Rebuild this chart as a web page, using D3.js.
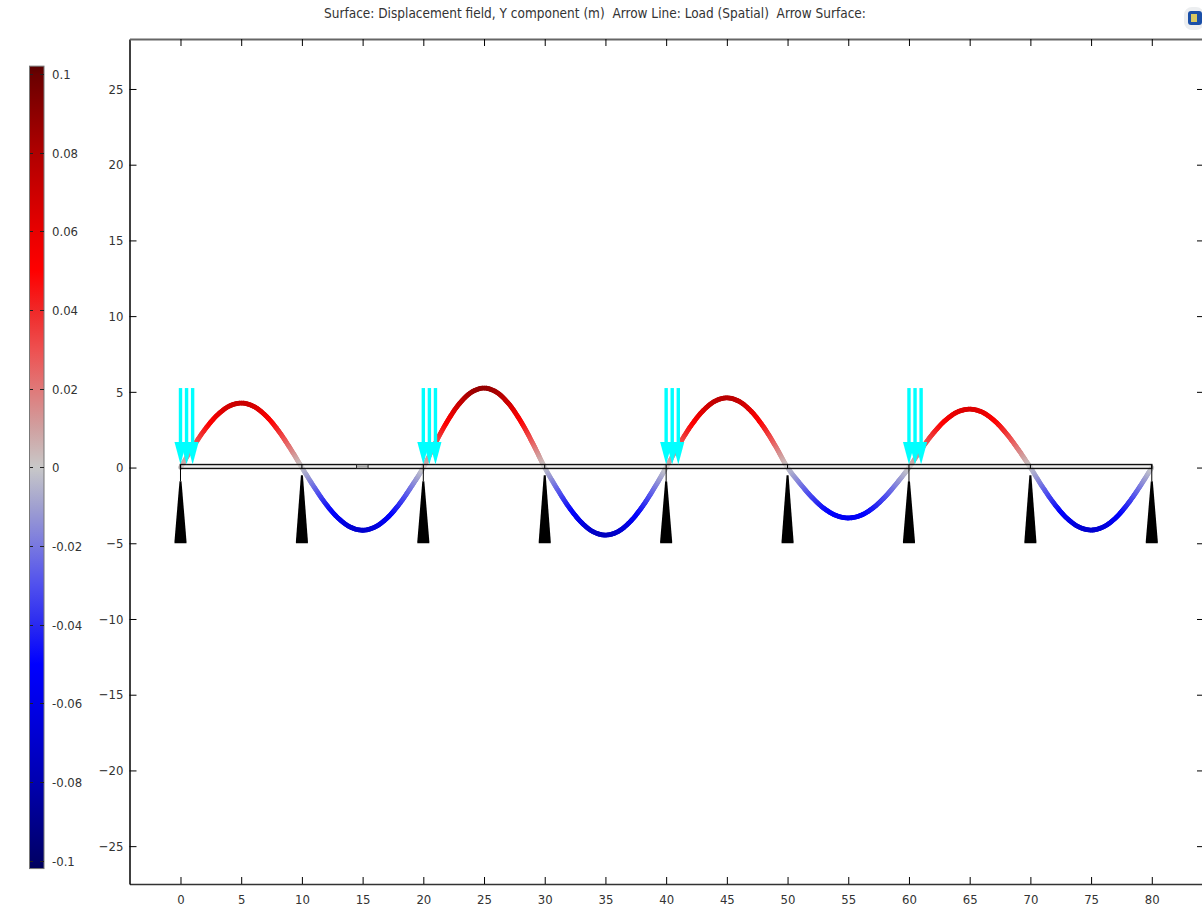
<!DOCTYPE html>
<html>
<head>
<meta charset="utf-8">
<script src="https://cdn.jsdelivr.net/npm/d3@7"></script>
<style>
    body { margin: 0; background: #fff; }
    svg { display: block; }
    text { font-family: "DejaVu Sans Condensed", "DejaVu Sans", sans-serif; font-stretch: condensed; font-size: 13px; fill: #333; }
    .title { font-size: 13.5px; }
</style>
</head>
<body>
<div id="chart"></div>
<script>
const titleText = "Surface: Displacement field, Y component (m)  Arrow Line: Load (Spatial)  Arrow Surface:";

const xTicks = d3.range(0, 81, 5);
const yTicks = [-25, -20, -15, -10, -5, 0, 5, 10, 15, 20, 25];
const colorTicks = [0.1, 0.08, 0.06, 0.04, 0.02, 0, -0.02, -0.04, -0.06, -0.08, -0.1];

// beam deflection in metres, read every 1 m along the beam
const deflection = [
    0, 0.0219, 0.0417, 0.0574, 0.0675, 0.071, 0.0675, 0.0574, 0.0417, 0.0219,
    0, -0.0213, -0.0406, -0.0558, -0.0656, -0.069, -0.0656, -0.0558, -0.0406, -0.0213,
    0, 0.027, 0.0514, 0.0708, 0.0832, 0.0875, 0.0832, 0.0708, 0.0514, 0.027,
    0, -0.023, -0.0437, -0.0601, -0.0707, -0.0743, -0.0707, -0.0601, -0.0437, -0.023,
    0, 0.0237, 0.0451, 0.062, 0.0729, 0.0767, 0.0729, 0.062, 0.0451, 0.0237,
    0, -0.0172, -0.0326, -0.0449, -0.0528, -0.0555, -0.0528, -0.0449, -0.0326, -0.0172,
    0, 0.0199, 0.0378, 0.052, 0.0612, 0.0643, 0.0612, 0.052, 0.0378, 0.0199,
    0, -0.0213, -0.0404, -0.0557, -0.0654, -0.0688, -0.0654, -0.0557, -0.0404, -0.0213,
    0
];
const deformationScale = 60;

const tallSupports = [0, 20, 40, 60, 80];
const shortSupports = [10, 30, 50, 70];
const loadStarts = [0, 20, 40, 60];
const loadOffsets = [0, 0.5, 1];

const colorStops = [-0.102, -0.1, -0.08, -0.06, -0.05, -0.04, -0.03, -0.02, -0.01, 0, 0.01, 0.02, 0.03, 0.04, 0.05, 0.06, 0.08, 0.1, 0.102];
const colorValues = ["#000058", "#000068", "#0000b0", "#0000e8", "#0000ff", "#2a2af0", "#5050ee", "#7878e0", "#a0a0d0", "#c8c8c8",
    "#d0a0a0", "#e07878", "#ee5050", "#f02828", "#ff0000", "#e80000", "#b00000", "#6a0000", "#580000"];

const width = 1202, height = 910;

const color = d3.scaleLinear().domain(colorStops).range(colorValues);
const x = d3.scaleLinear().domain([-4.2, 84.3]).range([129.5, 1204]);
const y = d3.scaleLinear().domain([-27.5, 28.3]).range([884, 39]);
const colorY = d3.scaleLinear().domain([-0.1, 0.1]).range([860.7, 74]);

const svg = d3.select("#chart").append("svg")
    .attr("width", width)
    .attr("height", height);

svg.append("text")
    .attr("class", "title")
    .attr("x", 595)
    .attr("y", 18)
    .attr("text-anchor", "middle")
    .style("white-space", "pre")
    .text(titleText);

// logo top right
const logo = svg.append("g");
logo.append("rect").attr("x", 1184).attr("y", 7).attr("width", 20).attr("height", 23).attr("rx", 8).attr("fill", "#eceef0");
logo.append("rect").attr("x", 1188).attr("y", 11).attr("width", 14).attr("height", 14).attr("rx", 3).attr("fill", "#1a4fa8");
logo.append("rect").attr("x", 1191).attr("y", 14).attr("width", 6).attr("height", 8).attr("fill", "#d8c860");

// axes: all ticks point inward
const axisOf = (axis, scale, ticks, labelled) => axis(scale)
    .tickValues(ticks)
    .tickSizeInner(-7)
    .tickSizeOuter(0)
    .tickFormat(labelled ? d3.format("d") : "");

const styleAxis = g => {
    g.attr("font-size", null).attr("font-family", null);
    g.selectAll(".tick line").attr("stroke", "#000");
};

const bottomAxis = svg.append("g")
    .attr("transform", `translate(0,${y(-27.5)})`)
    .call(axisOf(d3.axisBottom, x, xTicks, true))
    .call(styleAxis);
bottomAxis.selectAll("text").attr("y", 11);
bottomAxis.select(".domain").attr("stroke", "#333").attr("stroke-width", 1.5);

const leftAxis = svg.append("g")
    .attr("transform", `translate(${x(-4.2)},0)`)
    .call(axisOf(d3.axisLeft, y, yTicks, true))
    .call(styleAxis);
leftAxis.selectAll("text").attr("x", -6);
leftAxis.select(".domain").attr("stroke", "#000").attr("stroke-width", 1.5);

const topAxis = svg.append("g")
    .attr("transform", `translate(0,${y(28.3)})`)
    .call(axisOf(d3.axisTop, x, xTicks, false))
    .call(styleAxis);
topAxis.select(".domain").attr("stroke", "#666").attr("stroke-width", 2);

svg.append("g")
    .attr("transform", `translate(${x(84.3)},0)`)
    .call(axisOf(d3.axisRight, y, yTicks, false))
    .call(styleAxis);

// deformed beam, drawn in short pieces so the colour follows the value
const curve = d3.line()
    .x((d, i) => x(i))
    .y(d => y(d * deformationScale))
    .curve(d3.curveCatmullRom);

const guide = svg.append("path").attr("d", curve(deflection)).attr("fill", "none");
const guideNode = guide.node();
const total = guideNode.getTotalLength();
const pieces = d3.range(0, total, 2).map(l => {
    const a = guideNode.getPointAtLength(l);
    const b = guideNode.getPointAtLength(Math.min(l + 2, total));
    return { a, b, value: y.invert((a.y + b.y) / 2) / deformationScale };
});
guide.remove();

svg.append("g")
    .selectAll("line")
    .data(pieces)
    .join("line")
    .attr("x1", d => d.a.x)
    .attr("y1", d => d.a.y)
    .attr("x2", d => d.b.x)
    .attr("y2", d => d.b.y)
    .attr("stroke", d => color(d.value))
    .attr("stroke-width", 4.8)
    .attr("stroke-linecap", "round");

// beam outline
const beamTop = 0.2, beamBottom = -0.06;
svg.append("rect")
    .attr("x", x(0))
    .attr("y", y(beamTop))
    .attr("width", x(80) - x(0))
    .attr("height", y(beamBottom) - y(beamTop))
    .attr("fill", "#e4e4e4")
    .attr("fill-opacity", 0.55)
    .attr("stroke", "#111")
    .attr("stroke-width", 1.4);

svg.append("rect")
    .attr("x", x(14.5))
    .attr("y", y(beamTop))
    .attr("width", x(15.45) - x(14.5))
    .attr("height", y(beamBottom) - y(beamTop))
    .attr("fill", "#b0b0b0")
    .attr("stroke", "#222")
    .attr("stroke-width", 1);

// supports
const supportShape = (cx, tip) => {
    const px = x(cx), tipY = y(tip), baseY = y(-5);
    return `M${px - 1},${tipY}L${px + 1},${tipY}L${px + 6},${baseY - 2}L${px + 6},${baseY}L${px - 6},${baseY}L${px - 6},${baseY - 2}Z`;
};

svg.append("g")
    .selectAll("path")
    .data(tallSupports.map(d => [d, -0.9]).concat(shortSupports.map(d => [d, -0.5])))
    .join("path")
    .attr("d", d => supportShape(d[0], d[1]))
    .attr("fill", "#000");

svg.append("g")
    .selectAll("line")
    .data(tallSupports)
    .join("line")
    .attr("x1", d => x(d))
    .attr("x2", d => x(d))
    .attr("y1", y(beamTop))
    .attr("y2", y(-0.9))
    .attr("stroke", "#000");

svg.append("g")
    .selectAll("line")
    .data(shortSupports)
    .join("line")
    .attr("x1", d => x(d))
    .attr("x2", d => x(d))
    .attr("y1", y(beamTop))
    .attr("y2", y(beamBottom))
    .attr("stroke", "#000");

// load arrows
const loads = loadStarts.flatMap(s => loadOffsets.map(o => s + o));
const arrows = svg.append("g").attr("fill", "#00ffff");
arrows.selectAll("rect")
    .data(loads)
    .join("rect")
    .attr("x", d => x(d) - 1.7)
    .attr("y", y(5.25))
    .attr("width", 3.4)
    .attr("height", y(1.6) - y(5.25));
arrows.selectAll("path")
    .data(loads)
    .join("path")
    .attr("d", d => `M${x(d) - 6},${y(1.68)}L${x(d) + 6},${y(1.68)}L${x(d)},${y(0.2)}Z`);

// colour bar
const defs = svg.append("defs");
const gradient = defs.append("linearGradient")
    .attr("id", "colorbar")
    .attr("x1", 0).attr("x2", 0).attr("y1", 1).attr("y2", 0);
gradient.selectAll("stop")
    .data(colorStops)
    .join("stop")
    .attr("offset", d => (d + 0.102) / 0.204)
    .attr("stop-color", d => color(d));

svg.append("rect")
    .attr("x", 29.5)
    .attr("y", colorY(0.102))
    .attr("width", 14.5)
    .attr("height", colorY(-0.102) - colorY(0.102))
    .attr("fill", "url(#colorbar)")
    .attr("stroke", "#777")
    .attr("stroke-width", 1);

const colorAxis = svg.append("g")
    .selectAll("g")
    .data(colorTicks)
    .join("g")
    .attr("transform", d => `translate(0,${Math.round(colorY(d)) + 0.5})`);
colorAxis.append("line").attr("x1", 30).attr("x2", 33).attr("stroke", "#222");
colorAxis.append("line").attr("x1", 40).attr("x2", 44).attr("stroke", "#222");
colorAxis.append("text")
    .attr("x", 52)
    .attr("dy", "0.32em")
    .text(d => d === 0 ? "0" : String(d));
</script>
</body>
</html>
